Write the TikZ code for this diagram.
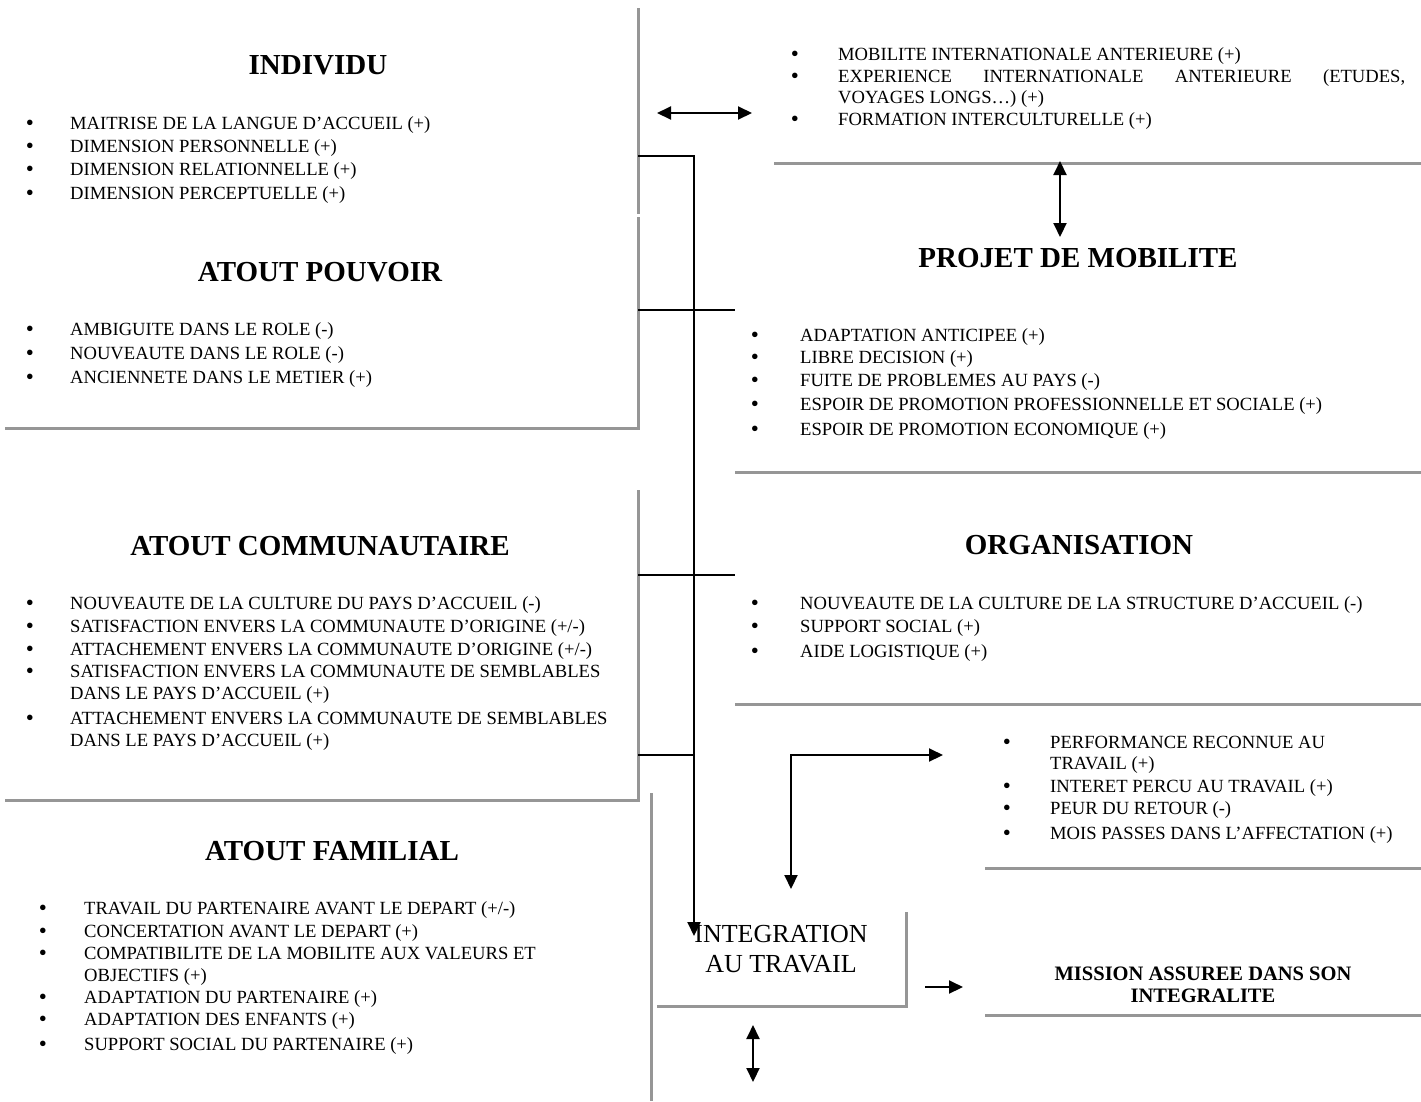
\documentclass[tikz,border=0pt]{standalone}
\usepackage{fontspec}
\setmainfont{Liberation Serif}
\usetikzlibrary{arrows.meta}
\definecolor{edgegray}{RGB}{150,150,150}
\newcommand\LItem[5]{\node[bul] (#1-b) at (#2,#4) {\textbullet}; \node[itm] (#1) at (#3,#4) {#5};}
\newcommand\LCont[4]{\node[itm] (#1) at (#2,#3) {#4};}
\begin{document}
\begin{tikzpicture}[x=1pt,y=-1pt,
  itm/.style={anchor=base west, inner sep=0pt, font=\fontsize{18.6}{22}\selectfont},
  bul/.style={anchor=base, inner sep=0pt, yshift=-1pt, font=\fontsize{23}{26}\selectfont},
  ttl/.style={anchor=base, inner sep=0pt, font=\fontsize{29}{34}\selectfont\bfseries},
  intg/.style={anchor=base, inner sep=0pt, font=\fontsize{26}{30}\selectfont},
  miss/.style={anchor=base, inner sep=0pt, font=\fontsize{20.5}{24}\selectfont\bfseries},
  boxedge/.style={draw=edgegray, line width=3pt},
  link/.style={draw=black, line width=2pt},
  tip/.style={-{Triangle[length=14pt,width=13pt]}},
  dtip/.style={{Triangle[length=14pt,width=13pt]}-{Triangle[length=14pt,width=13pt]}}
]
\useasboundingbox (0,0) rectangle (1421,1101);

% ---------- gray box edges ----------
\draw[boxedge] (638,8) -- (638,214);
\draw[boxedge] (638,217) -- (638,428) -- (5,428);
\draw[boxedge] (638,490) -- (638,800) -- (5,800);
\draw[boxedge] (651,793) -- (651,1101);
\draw[boxedge] (774,163) -- (1421,163);
\draw[boxedge] (735,472) -- (1421,472);
\draw[boxedge] (735,704) -- (1421,704);
\draw[boxedge] (985,868) -- (1421,868);
\draw[boxedge] (985,1015) -- (1421,1015);
\draw[boxedge] (906,912) -- (906,1006) -- (657,1006);

% ---------- INDIVIDU ----------
\node[ttl] (individu) at (318,74) {INDIVIDU};
\LItem{i1}{30}{70}{129}{MAITRISE DE LA LANGUE D’ACCUEIL (+)}
\LItem{i2}{30}{70}{152}{DIMENSION PERSONNELLE (+)}
\LItem{i3}{30}{70}{175}{DIMENSION RELATIONNELLE (+)}
\LItem{i4}{30}{70}{199}{DIMENSION PERCEPTUELLE (+)}

% ---------- ATOUT POUVOIR ----------
\node[ttl] (pouvoir) at (320,281) {ATOUT POUVOIR};
\LItem{p1}{30}{70}{335}{AMBIGUITE DANS LE ROLE (-)}
\LItem{p2}{30}{70}{359}{NOUVEAUTE DANS LE ROLE (-)}
\LItem{p3}{30}{70}{383}{ANCIENNETE DANS LE METIER (+)}

% ---------- ATOUT COMMUNAUTAIRE ----------
\node[ttl] (commu) at (320,555) {ATOUT COMMUNAUTAIRE};
\LItem{c1}{30}{70}{609}{NOUVEAUTE DE LA CULTURE DU PAYS D’ACCUEIL (-)}
\LItem{c2}{30}{70}{632}{SATISFACTION ENVERS LA COMMUNAUTE D’ORIGINE (+/-)}
\LItem{c3}{30}{70}{655}{ATTACHEMENT ENVERS LA COMMUNAUTE D’ORIGINE (+/-)}
\LItem{c4}{30}{70}{677}{SATISFACTION ENVERS LA COMMUNAUTE DE SEMBLABLES}
\LCont{c4b}{70}{699}{DANS LE PAYS D’ACCUEIL (+)}
\LItem{c5}{30}{70}{724}{ATTACHEMENT ENVERS LA COMMUNAUTE DE SEMBLABLES}
\LCont{c5b}{70}{746}{DANS LE PAYS D’ACCUEIL (+)}

% ---------- ATOUT FAMILIAL ----------
\node[ttl] (famil) at (332,860) {ATOUT FAMILIAL};
\LItem{f1}{43}{84}{914}{TRAVAIL DU PARTENAIRE AVANT LE DEPART (+/-)}
\LItem{f2}{43}{84}{937}{CONCERTATION AVANT LE DEPART (+)}
\LItem{f3}{43}{84}{959}{COMPATIBILITE DE LA MOBILITE AUX VALEURS ET}
\LCont{f3b}{84}{981}{OBJECTIFS (+)}
\LItem{f4}{43}{84}{1003}{ADAPTATION DU PARTENAIRE (+)}
\LItem{f5}{43}{84}{1025}{ADAPTATION DES ENFANTS (+)}
\LItem{f6}{43}{84}{1050}{SUPPORT SOCIAL DU PARTENAIRE (+)}

% ---------- experience (top right) ----------
\LItem{e1}{795}{838}{60}{MOBILITE INTERNATIONALE ANTERIEURE (+)}
\LItem{e2}{795}{838}{82}{\makebox[567pt][s]{EXPERIENCE INTERNATIONALE ANTERIEURE (ETUDES,}}
\LCont{e2b}{838}{103}{VOYAGES LONGS…) (+)}
\LItem{e3}{795}{838}{125}{FORMATION INTERCULTURELLE (+)}

% ---------- PROJET DE MOBILITE ----------
\node[ttl] (projet) at (1078,267) {PROJET DE MOBILITE};
\LItem{m1}{755}{800}{341}{ADAPTATION ANTICIPEE (+)}
\LItem{m2}{755}{800}{363}{LIBRE DECISION (+)}
\LItem{m3}{755}{800}{386}{FUITE DE PROBLEMES AU PAYS (-)}
\LItem{m4}{755}{800}{410}{ESPOIR DE PROMOTION PROFESSIONNELLE ET SOCIALE (+)}
\LItem{m5}{755}{800}{435}{ESPOIR DE PROMOTION ECONOMIQUE (+)}

% ---------- ORGANISATION ----------
\node[ttl] (orga) at (1079,554) {ORGANISATION};
\LItem{o1}{755}{800}{609}{NOUVEAUTE DE LA CULTURE DE LA STRUCTURE D’ACCUEIL (-)}
\LItem{o2}{755}{800}{632}{SUPPORT SOCIAL (+)}
\LItem{o3}{755}{800}{657}{AIDE LOGISTIQUE (+)}

% ---------- travail (performance) ----------
\LItem{w1}{1007}{1050}{748}{PERFORMANCE RECONNUE AU}
\LCont{w1b}{1050}{769}{TRAVAIL (+)}
\LItem{w2}{1007}{1050}{792}{INTERET PERCU AU TRAVAIL (+)}
\LItem{w3}{1007}{1050}{814}{PEUR DU RETOUR (-)}
\LItem{w4}{1007}{1050}{839}{MOIS PASSES DANS L’AFFECTATION (+)}

% ---------- INTEGRATION / MISSION ----------
\node[intg] (integ) at (781,942) {INTEGRATION};
\node[intg] (integb) at (781,972) {AU TRAVAIL};
\node[miss] (mission) at (1203,980) {MISSION ASSUREE DANS SON};
\node[miss] (missionb) at (1203,1002) {INTEGRALITE};

% ---------- connector points ----------
\coordinate (indR) at (638,156);
\coordinate (jTop) at (694,156);
\coordinate (pouR) at (638,310);
\coordinate (projL) at (735,310);
\coordinate (comR) at (638,575);
\coordinate (orgL) at (735,575);
\coordinate (comR2) at (638,755);
\coordinate (jLow) at (694,755);
\coordinate (intIn) at (694,936);
\coordinate (hdA) at (657,113);
\coordinate (hdB) at (752,113);
\coordinate (vdA) at (1060,161);
\coordinate (vdB) at (1060,237);
\coordinate (perfIn) at (943,755);
\coordinate (elb) at (791,755);
\coordinate (intTop) at (791,889);
\coordinate (mA) at (925,987);
\coordinate (mB) at (963,987);
\coordinate (bdA) at (753,1025);
\coordinate (bdB) at (753,1082);

% ---------- black connectors ----------
\draw[link, tip] (indR) -- (jTop) -- (intIn);
\draw[link] (pouR) -- (projL);
\draw[link] (comR) -- (orgL);
\draw[link] (comR2) -- (jLow);
\draw[link, dtip] (hdA) -- (hdB);
\draw[link, dtip] (vdA) -- (vdB);
\draw[link, dtip] (perfIn) -- (elb) -- (intTop);
\draw[link, tip] (mA) -- (mB);
\draw[link, dtip] (bdA) -- (bdB);
\end{tikzpicture}
\end{document}
